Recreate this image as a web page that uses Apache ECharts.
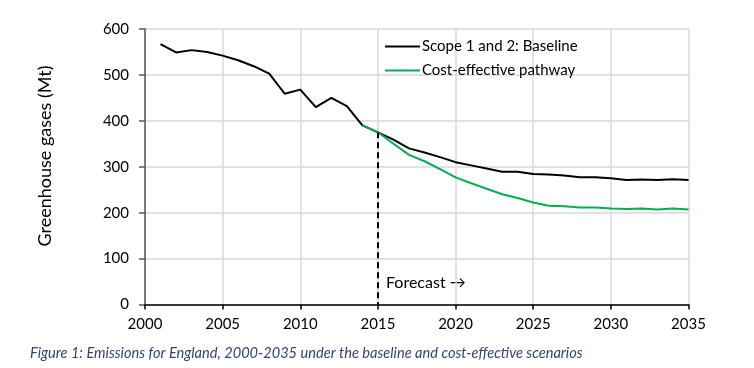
<!DOCTYPE html>
<html>
<head>
<meta charset="utf-8">
<script src="https://cdn.jsdelivr.net/npm/echarts@6/dist/echarts.min.js"></script>
<style>
html,body{margin:0;padding:0;background:#fff;}
#c{width:754px;height:368px;}
</style>
</head>
<body>
<div id="c"></div>
<script>
// Data
const baselineYears = [2001,2002,2003,2004,2005,2006,2007,2008,2009,2010,2011,2012,2013,2014,2015,2016,2017,2018,2019,2020,2021,2022,2023,2024,2025,2026,2027,2028,2029,2030,2031,2032,2033,2034,2035];
const baselineValues = [567,549,554,550,542,532,519,503,459,468,430,450,432,390,375,359,340,331,321,310,303,296,289,289,284,283,281,277,277,275,271,272,271,273,271];
const pathwayYears = [2014,2015,2016,2017,2018,2019,2020,2021,2022,2023,2024,2025,2026,2027,2028,2029,2030,2031,2032,2033,2034,2035];
const pathwayValues = [390,375,350,326,312,295,277,264,252,240,232,222,215,214,211,211,209,208,209,207,209,207];
const forecastYear = 2015;
const forecastValue = 375;
const seriesNames = ['Scope 1 and 2: Baseline', 'Cost-effective pathway'];
const yAxisTitle = 'Greenhouse gases (Mt)';
const forecastLabel = 'Forecast \u2192';
const caption = 'Figure 1: Emissions for England, 2000-2035 under the baseline and cost-effective scenarios';

const FONT = 'Lato';
const chart = echarts.init(document.getElementById('c'), null, {renderer: 'canvas'});
const zip = (xs, ys) => xs.map((x, i) => [x, ys[i]]);

chart.setOption({
  animation: false,
  backgroundColor: '#fff',
  textStyle: {fontFamily: FONT},
  grid: {left: 145, right: 65.5, top: 29, bottom: 63.5},
  title: {
    text: caption, left: 25, top: 341,
    textStyle: {fontFamily: FONT, fontStyle: 'italic', fontWeight: 'normal', fontSize: 14.6, color: '#33466b'}
  },
  legend: {
    orient: 'vertical', left: 380, top: 34,
    itemWidth: 35, itemHeight: 2, itemGap: 9,
    icon: 'rect',
    textStyle: {fontFamily: FONT, fontSize: 15, color: '#000', padding: [0, 0, 0, -3]},
    data: seriesNames
  },
  xAxis: {
    type: 'value', min: 2000, max: 2035, interval: 5,
    axisLine: {show: true, lineStyle: {color: '#000', width: 1.5}},
    axisTick: {show: true, length: 5, lineStyle: {color: '#000', width: 1.5}},
    axisLabel: {fontFamily: FONT, fontSize: 15, color: '#000', margin: 12, formatter: v => String(v)},
    splitLine: {show: true, lineStyle: {color: '#d9d9d9', width: 1.5}}
  },
  yAxis: {
    type: 'value', min: 0, max: 600, interval: 100,
    axisLine: {show: true, lineStyle: {color: '#595959', width: 1.5}},
    axisTick: {show: true, length: 6, lineStyle: {color: '#595959', width: 1.5}},
    axisLabel: {fontFamily: FONT, fontSize: 15, color: '#000', margin: 16},
    splitLine: {show: true, lineStyle: {color: '#d9d9d9', width: 1.5}}
  },
  series: [
    {
      name: seriesNames[0], type: 'line', data: zip(baselineYears, baselineValues),
      symbol: 'none', lineStyle: {color: '#000', width: 2}, itemStyle: {color: '#000'},
      markLine: {
        silent: true, symbol: 'none',
        lineStyle: {color: '#000', width: 2, type: [6, 4]},
        label: {show: false},
        data: [[{coord: [forecastYear, forecastValue]}, {coord: [forecastYear, 0]}]]
      }
    },
    {
      name: seriesNames[1], type: 'line', data: zip(pathwayYears, pathwayValues),
      symbol: 'none', lineStyle: {color: '#00b050', width: 2}, itemStyle: {color: '#00b050'}
    }
  ],
  graphic: [
    {
      type: 'text', left: 386, top: 275,
      style: {text: forecastLabel, font: '16px ' + FONT, fill: '#000'}
    },
    {
      type: 'text', x: 45, y: 156, rotation: Math.PI / 2,
      style: {text: yAxisTitle, font: '18px ' + FONT, fill: '#000', align: 'center', verticalAlign: 'middle'}
    }
  ]
});
</script>
</body>
</html>
